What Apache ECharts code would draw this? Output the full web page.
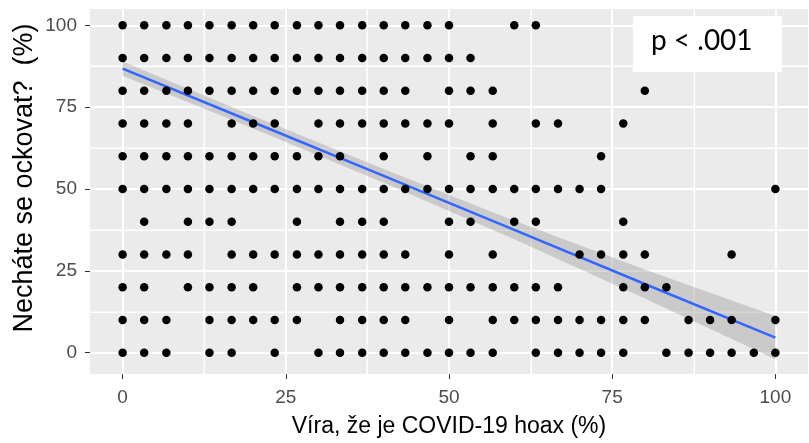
<!DOCTYPE html>
<html><head><meta charset="utf-8">
<script src="https://cdn.jsdelivr.net/npm/echarts@6/dist/echarts.min.js"></script>
<style>html,body{margin:0;padding:0;background:#fff}#c{width:809px;height:443px}</style>
</head><body><div id="c"></div>
<script>
// Tick labels
const xTicks = [0, 25, 50, 75, 100];
const yTicks = [0, 25, 50, 75, 100];
const xMinor = [12.5, 37.5, 62.5, 87.5];
const yMinor = [12.5, 37.5, 62.5, 87.5];

// Points: x values present in each y row
const row100 = [0,3.3,6.7,10,13.3,16.7,20,23.3,26.7,30,33.3,36.7,40,43.3,46.7,50,60,63.3];
const row90  = [0,3.3,6.7,10,13.3,16.7,20,23.3,26.7,30,33.3,36.7,40,43.3,46.7,50,53.3];
const row80  = [0,3.3,6.7,10,13.3,16.7,20,23.3,26.7,30,33.3,36.7,40,43.3,50,53.3,56.7,80];
const row70  = [0,3.3,6.7,10,16.7,20,23.3,30,33.3,36.7,40,43.3,46.7,50,56.7,63.3,66.7,76.7];
const row60  = [0,3.3,6.7,10,13.3,16.7,20,23.3,26.7,30,33.3,40,46.7,53.3,56.7,73.3];
const row50  = [0,3.3,6.7,10,13.3,16.7,20,23.3,26.7,30,33.3,36.7,40,43.3,46.7,50,53.3,56.7,60,63.3,66.7,70,73.3,100];
const row40  = [3.3,10,13.3,16.7,26.7,33.3,36.7,40,50,53.3,60,63.3,76.7];
const row30  = [0,3.3,6.7,10,16.7,20,23.3,26.7,30,33.3,36.7,40,43.3,50,56.7,70,73.3,76.7,80,93.3];
const row20  = [0,3.3,10,13.3,16.7,20,26.7,30,33.3,36.7,40,43.3,46.7,50,53.3,56.7,60,63.3,66.7,76.7,80,83.3];
const row10  = [0,3.3,6.7,13.3,16.7,20,23.3,26.7,33.3,36.7,40,43.3,50,56.7,60,63.3,66.7,70,73.3,76.7,80,86.7,90,93.3,100];
const row0   = [0,3.3,6.7,13.3,16.7,23.3,30,33.3,36.7,40,43.3,46.7,50,53.3,56.7,63.3,66.7,70,73.3,76.7,83.3,86.7,90,93.3,96.7,100];
const rowLevels = [100, 90, 80, 70, 60, 50, 40, 30, 20, 10, 0];
const rows = [row100, row90, row80, row70, row60, row50, row40, row30, row20, row10, row0];

// Fitted line and confidence band
const fitX     = [0, 20, 40, 60, 80, 100];
const fitY     = [86.8, 70.4, 54.0, 37.5, 21.0, 4.6];
const bandUp   = [89.0, 72.3, 56.1, 40.3, 25.4, 11.2];
const bandLow  = [84.6, 68.5, 51.9, 34.7, 16.6, -2.0];

const points = [];
rows.forEach((r, i) => r.forEach(x => points.push([x, rowLevels[i]])));

const chart = echarts.init(document.getElementById('c'), null, {renderer: 'canvas'});
const tickFont = {fontFamily: 'Liberation Sans, Arial, sans-serif', fontSize: 19, color: '#4D4D4D'};
chart.setOption({
  animation: false,
  backgroundColor: '#ffffff',
  grid: {left: 90, right: 1, top: 9, bottom: 68, show: true, backgroundColor: '#EBEBEB', borderWidth: 0},
  xAxis: {
    type: 'value', min: -5, max: 105,
    axisLine: {show: false, onZero: false},
    axisTick: {show: true, length: 5, customValues: xTicks, lineStyle: {color: '#333333', width: 1}},
    axisLabel: Object.assign({customValues: xTicks, margin: 14}, tickFont),
    splitLine: {show: true, lineStyle: {color: '#ffffff', width: 2}},
    name: 'Víra, že je COVID-19 hoax (%)', nameLocation: 'middle', nameGap: 41,
    nameTextStyle: {fontFamily: 'Liberation Sans, Arial, sans-serif', fontSize: 23, color: '#000000', lineHeight: 23}
  },
  yAxis: {
    type: 'value', min: -6.5, max: 105,
    axisLine: {show: false, onZero: false},
    axisTick: {show: true, length: 5, customValues: yTicks, lineStyle: {color: '#333333', width: 1}},
    axisLabel: Object.assign({customValues: yTicks, margin: 13}, tickFont),
    splitLine: {show: true, lineStyle: {color: '#ffffff', width: 2}}
  },
  series: [{
    // minor vertical grid lines
    type: 'custom', silent: true, z: 1, clip: false,
    data: xMinor.map(v => [v, 50]),
    encode: {x: 0, y: 1},
    renderItem: function (params, api) {
      const top = api.coord([api.value(0), 105]);
      const bot = api.coord([api.value(0), -6.5]);
      const px = Math.round(top[0]);
      return {type: 'rect', shape: {x: px - 0.5, y: top[1], width: 1.5, height: bot[1] - top[1]},
              style: {fill: '#ffffff'}};
    }
  }, {
    // minor horizontal grid lines
    type: 'custom', silent: true, z: 1, clip: false,
    data: yMinor.map(v => [50, v]),
    encode: {x: 0, y: 1},
    renderItem: function (params, api) {
      const l = api.coord([-5, api.value(1)]);
      const r = api.coord([105, api.value(1)]);
      const py = Math.round(l[1]);
      return {type: 'rect', shape: {x: l[0], y: py - 0.5, width: r[0] - l[0], height: 1.5},
              style: {fill: '#ffffff'}};
    }
  }, {
    type: 'custom', silent: true, z: 1,
    data: fitX.map((x, i) => [x, bandLow[i], bandUp[i]]),
    encode: {x: 0, y: [1, 2]},
    renderItem: function (params, api) {
      if (params.dataIndex !== 0) return null;
      const upper = fitX.map((x, i) => api.coord([x, bandUp[i]]));
      const lower = fitX.map((x, i) => api.coord([x, bandLow[i]])).reverse();
      return {type: 'polygon', shape: {points: upper.concat(lower)},
              style: {fill: '#999999', opacity: 0.4}};
    }
  }, {
    type: 'line', silent: true, z: 2,
    data: fitX.map((x, i) => [x, fitY[i]]),
    symbol: 'none', lineStyle: {color: '#3366FF', width: 2.5}
  }, {
    type: 'scatter', data: points, symbolSize: 8.5, z: 3,
    itemStyle: {color: '#000000', opacity: 1}
  }],
  graphic: [{
    type: 'rect', left: 633, top: 16, shape: {width: 149, height: 56},
    style: {fill: '#ffffff'}
  }, {
    type: 'text', left: 651, top: 27,
    style: {text: 'p < .001', fontFamily: 'Lato, sans-serif', fontSize: 28, fill: '#000000'}
  }, {
    type: 'text', x: 25, y: 178, rotation: Math.PI / 2,
    style: {text: 'Necháte se ockovat?  (%)', fontFamily: 'Liberation Sans, Arial, sans-serif', fontSize: 27,
            fill: '#000000', align: 'center', verticalAlign: 'middle'}
  }]
});
</script>
</body></html>
